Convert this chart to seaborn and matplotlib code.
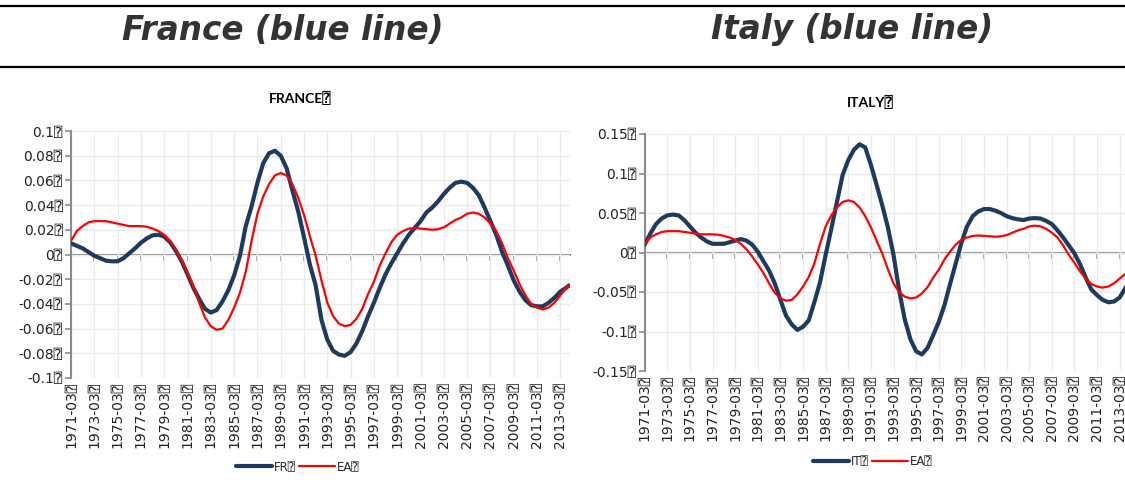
import matplotlib
matplotlib.use("Agg")
import matplotlib.pyplot as plt
from matplotlib.lines import Line2D
import seaborn as sns
import pandas as pd

# ---------------- data ----------------
periods = [f"{y}-{m:02d}" for y in range(1971, 2014) for m in (3, 9)] + ["2013-12"]

fr_values = [
    0.009, 0.007, 0.005, 0.002, -0.001, -0.003, -0.005, -0.0055, -0.0055, -0.003,
    0.001, 0.005, 0.0095, 0.013, 0.0155, 0.016, 0.0145, 0.010, 0.003, -0.0055,
    -0.016, -0.027, -0.036, -0.044, -0.047, -0.045, -0.038, -0.029, -0.017, -0.001,
    0.023, 0.039, 0.058, 0.074, 0.082, 0.084, 0.080, 0.070, 0.052, 0.035,
    0.014, -0.008, -0.025, -0.053, -0.069, -0.078, -0.081, -0.082, -0.079, -0.072,
    -0.062, -0.050, -0.039, -0.027, -0.016, -0.007, 0.001, 0.009, 0.016, 0.0215,
    0.027, 0.034, 0.038, 0.043, 0.049, 0.054, 0.058, 0.059, 0.058, 0.054,
    0.048, 0.038, 0.027, 0.016, 0.002, -0.009, -0.021, -0.030, -0.037, -0.041,
    -0.042, -0.042, -0.039, -0.035, -0.030, -0.027, -0.025,
]

ea_values = [
    0.011, 0.019, 0.023, 0.026, 0.027, 0.027, 0.027, 0.026, 0.025, 0.024,
    0.023, 0.023, 0.023, 0.0225, 0.021, 0.019, 0.016, 0.011, 0.004, -0.005,
    -0.015, -0.026, -0.039, -0.051, -0.058, -0.061, -0.060, -0.053, -0.043, -0.031,
    -0.014, 0.011, 0.033, 0.047, 0.057, 0.064, 0.066, 0.064, 0.057, 0.046,
    0.032, 0.015, -0.001, -0.021, -0.039, -0.050, -0.056, -0.058, -0.057, -0.052,
    -0.044, -0.032, -0.022, -0.009, 0.001, 0.010, 0.016, 0.019, 0.021, 0.0215,
    0.021, 0.0205, 0.020, 0.0205, 0.022, 0.025, 0.028, 0.030, 0.033, 0.034,
    0.033, 0.030, 0.025, 0.019, 0.009, -0.003, -0.013, -0.024, -0.033, -0.040,
    -0.043, -0.0445, -0.043, -0.039, -0.033, -0.027, -0.025,
]

it_values = [
    0.010, 0.024, 0.036, 0.043, 0.047, 0.048, 0.047, 0.041, 0.033, 0.025,
    0.019, 0.014, 0.011, 0.011, 0.011, 0.013, 0.015, 0.017, 0.015, 0.010,
    0.001, -0.011, -0.023, -0.039, -0.060, -0.080, -0.091, -0.098, -0.094, -0.086,
    -0.063, -0.038, -0.003, 0.030, 0.064, 0.098, 0.117, 0.130, 0.137, 0.133,
    0.111, 0.086, 0.060, 0.032, -0.003, -0.048, -0.085, -0.110, -0.125, -0.129,
    -0.121, -0.105, -0.088, -0.067, -0.040, -0.014, 0.012, 0.033, 0.046, 0.052,
    0.055, 0.055, 0.053, 0.050, 0.046, 0.0435, 0.042, 0.041, 0.043, 0.0435,
    0.043, 0.040, 0.036, 0.028, 0.019, 0.009, -0.001, -0.015, -0.032, -0.047,
    -0.054, -0.060, -0.063, -0.062, -0.057, -0.045, -0.038,
]

tick_years = list(range(1971, 2014, 2))
x_tick_labels = [f"{y}-03\u2370" for y in tick_years]

fr_yticks = [-0.1, -0.08, -0.06, -0.04, -0.02, 0, 0.02, 0.04, 0.06, 0.08, 0.1]
fr_ylabels = ["-0.1", "-0.08", "-0.06", "-0.04", "-0.02", "0", "0.02", "0.04", "0.06", "0.08", "0.1"]
it_yticks = [-0.15, -0.1, -0.05, 0, 0.05, 0.1, 0.15]
it_ylabels = ["-0.15", "-0.1", "-0.05", "0", "0.05", "0.1", "0.15"]

BOX = "\u2370"
NAVY = "#1f3a60"
RED = "#ff0000"
GRID = "#ebebeb"
AXC = "#8c8c8c"

# ---------------- style ----------------
sns.set_theme(style="white")
plt.rcParams["font.family"] = ["DejaVu Sans", "DejaVu Sans Mono"]


def to_year(p):
    y, m = p.split("-")
    return int(y) + (int(m) - 3) / 12.0


xnum = [to_year(p) for p in periods]


def make_df(name, main_vals):
    return pd.DataFrame({
        "x": xnum * 2,
        "value": list(main_vals) + list(ea_values),
        "series": [name] * len(main_vals) + ["EA"] * len(ea_values),
    })


fig = plt.figure(figsize=(11.25, 4.8), dpi=100)

# header lines & titles
fig.add_artist(Line2D([0, 1], [1 - 6 / 480, 1 - 6 / 480], transform=fig.transFigure,
                      color="black", lw=1.6))
fig.add_artist(Line2D([0, 1], [1 - 67 / 480, 1 - 67 / 480], transform=fig.transFigure,
                      color="black", lw=1.6))
fig.text(283 / 1125, 1 - 30 / 480, "France (blue line)", ha="center", va="center",
         fontsize=23.5, fontweight="bold", fontstyle="italic", color="#333333")
fig.text(852 / 1125, 1 - 30 / 480, "Italy (blue line)", ha="center", va="center",
         fontsize=23.5, fontweight="bold", fontstyle="italic", color="#333333")


def draw_panel(rect, name, main_vals, yticks, ylabels, xlim, title, title_xy, leg_xy):
    ax = fig.add_axes(rect)
    df = make_df(name, main_vals)
    sns.lineplot(data=df, x="x", y="value", hue="series", size="series",
                 palette={name: NAVY, "EA": RED}, sizes={name: 3.0, "EA": 1.6},
                 hue_order=[name, "EA"], size_order=[name, "EA"],
                 legend=False, ax=ax)
    ax.set_xlim(*xlim)
    ax.set_ylim(yticks[0], yticks[-1])
    ax.set_xticks(tick_years)
    ax.set_xticklabels(x_tick_labels, rotation=90, fontsize=10, color="#222222")
    ax.set_yticks(yticks)
    ax.set_yticklabels([l + BOX for l in ylabels], fontsize=10, color="#222222")
    ax.tick_params(axis="x", length=0, pad=3)
    ax.tick_params(axis="y", length=4, width=1.2, color=AXC, direction="out", pad=2, left=True)
    ax.grid(True, color=GRID, lw=1)
    ax.set_axisbelow(True)
    for s in ["top", "right", "bottom"]:
        ax.spines[s].set_visible(False)
    ax.spines["left"].set_color(AXC)
    ax.spines["left"].set_linewidth(1.5)
    ax.set_xlabel("")
    ax.set_ylabel("")
    # zero axis with tick marks
    sec = ax.secondary_xaxis(0.5)
    sec.set_alignment("bottom")
    sec.set_xticks(tick_years)
    sec.tick_params(axis="x", length=4, width=1.2, color=AXC, direction="out", labelbottom=False)
    sec.spines["bottom"].set_color(AXC)
    sec.spines["bottom"].set_linewidth(1.5)
    for ln in ax.get_lines():
        ln.set_zorder(5)
    fig.text(title_xy[0] / 1125, 1 - title_xy[1] / 480, title + BOX, ha="center", va="center",
             fontsize=10, fontweight="bold", color="black",
             family=["Lato", "DejaVu Sans", "DejaVu Sans Mono"])
    handles = [Line2D([], [], color=NAVY, lw=3.0), Line2D([], [], color=RED, lw=1.6)]
    fig.legend(handles, [name + BOX, "EA" + BOX], loc="center",
               bbox_to_anchor=(leg_xy[0] / 1125, 1 - leg_xy[1] / 480),
               ncol=2, frameon=False, fontsize=8.5, handlelength=3.0,
               handletextpad=0.2, columnspacing=0.3)
    return ax


draw_panel([71 / 1125, 1 - 378 / 480, 499 / 1125, 247 / 480], "FR", fr_values,
           fr_yticks, fr_ylabels, (1971.0, 2013.83), "FRANCE", (300, 98), (298, 467))
draw_panel([644.7 / 1125, 1 - 371 / 480, (1125 - 644.7) / 1125, 237 / 480], "IT", it_values,
           it_yticks, it_ylabels, (1971.0, 2013.47), "ITALY", (870, 102), (873, 462))

fig.savefig("out.png", dpi=100)
